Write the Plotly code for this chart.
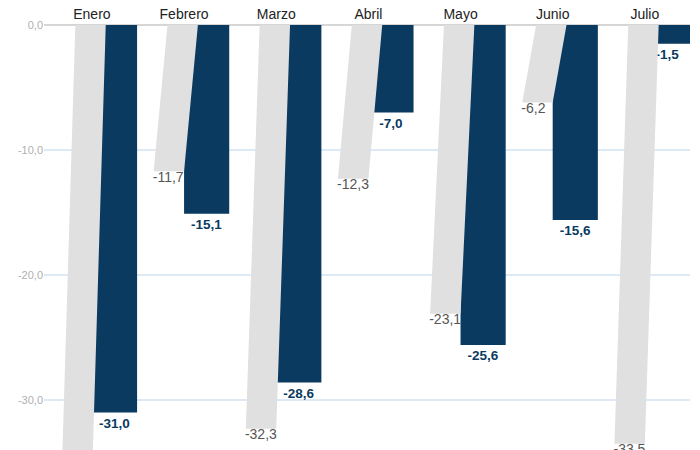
import plotly.graph_objects as go

months = ["Enero", "Febrero", "Marzo", "Abril", "Mayo", "Junio", "Julio"]
prev_values = [-36.5, -11.7, -32.3, -12.3, -23.1, -6.2, -33.5]
curr_values = [-31.0, -15.1, -28.6, -7.0, -25.6, -15.6, -1.5]
y_ticks = [0, -10, -20, -30]

GREY = "#e0e0e0"
BLUE = "#0a3a5f"
BAR_W = 0.49
SKEW = 0.15
GW = 0.33

xs = list(range(len(months)))

# skewed grey polygons built from the data values
px, py = [], []
for i, v in zip(xs, prev_values):
    px += [i - GW, i, i + SKEW, i + SKEW - GW, i - GW, None]
    py += [v, v, 0, 0, v, None]

fig = go.Figure()
fig.add_trace(go.Scatter(
    x=px, y=py, mode="lines", fill="toself", fillcolor=GREY,
    line=dict(width=0, color=GREY), hoverinfo="skip", showlegend=False,
))
fig.add_trace(go.Scatter(
    x=[i - GW - 0.01 for i in xs], y=prev_values, mode="text",
    text=[f"{v:.1f}".replace(".", ",") for v in prev_values],
    textposition="bottom right",
    textfont=dict(family="Liberation Sans, Arial", size=14, color="#555555"),
    showlegend=False, hoverinfo="skip",
))
fig.add_trace(go.Bar(
    x=xs, y=curr_values, width=BAR_W, offset=0,
    marker=dict(color=BLUE, line=dict(width=0)),
    text=[f"<b>{v:.1f}</b>".replace(".", ",") for v in curr_values],
    textposition="outside", textangle=0,
    textfont=dict(family="Liberation Sans, Arial", size=13.5, color=BLUE),
    constraintext="none", cliponaxis=False,
    showlegend=False,
))

fig.update_layout(
    width=700, height=450,
    margin=dict(l=44, r=10, t=25, b=0, autoexpand=False),
    plot_bgcolor="white", paper_bgcolor="white",
    separators=",.",
    font=dict(family="Liberation Sans, Arial"),
    xaxis=dict(
        range=[-0.52, 6.49], side="top", automargin=False,
        tickvals=xs, ticktext=months,
        tickfont=dict(size=14, color="#222222"),
        ticklabelstandoff=2,
        showgrid=False, zeroline=False, showline=False, ticks="",
    ),
    yaxis=dict(
        range=[-34.0, 0], tickvals=y_ticks, automargin=False,
        ticktext=[f"{t:.1f}".replace(".", ",") for t in y_ticks],
        tickfont=dict(size=11, color="#b0b0b0"),
        showgrid=True, gridcolor="#dde9f4", gridwidth=2,
        zeroline=True, zerolinecolor="#d6d6d6", zerolinewidth=2,
        showline=False, ticks="",
    ),
)

fig.write_html(
    "out.html",
    config={"displayModeBar": False},
    post_script="document.body.style.margin='0';document.body.style.overflow='hidden';",
)
